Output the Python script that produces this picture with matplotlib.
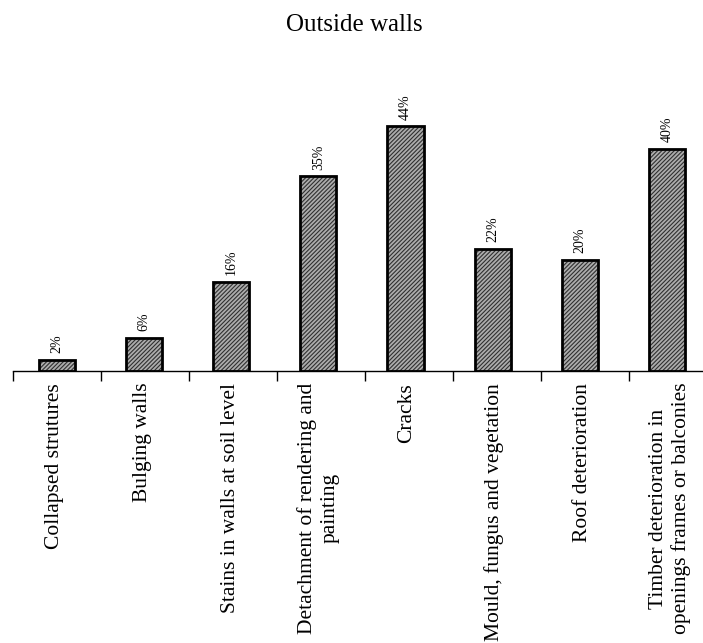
import numpy as np
import matplotlib
matplotlib.use('Agg')
import matplotlib.pyplot as plt

categories = ['Collapsed strutures', 'Bulging walls', 'Stains in walls at soil level',
              'Detachment of rendering and\npainting', 'Cracks',
              'Mould, fungus and vegetation', 'Roof deterioration',
              'Timber deterioration in\nopenings frames or balconies']
values = [2, 6, 16, 35, 44, 22, 20, 40]

plt.rcParams['font.family'] = ['Liberation Serif', 'DejaVu Serif']
plt.rcParams['hatch.linewidth'] = 0.8

fig = plt.figure(figsize=(7.03, 6.43), dpi=100)
# axis starts at the first boundary tick, runs off the right edge
ax = fig.add_axes([13/703, 272/643, 690/703, 278/643])

x = np.arange(len(values))
xb = x * 0.99  # bars drift slightly left of the category centres in the original
ax.bar(xb, values, width=0.41, color='#acacac', edgecolor='#303030',
       hatch='////////', linewidth=0)
ax.bar(xb, values, width=0.41, fill=False, edgecolor='black', linewidth=2)

for xi, v in zip(xb, values):
    ax.text(xi, v + 1.2, f'{v}%', rotation=90, ha='center', va='bottom', fontsize=10)

ax.set_xlim(-0.5, -0.5 + 690/88)
ax.set_ylim(0, 50)
ax.set_xticks(x - 0.03)
ax.set_xticklabels(categories, rotation=90, fontsize=15.5, multialignment='center',
                   linespacing=1.2)
ax.tick_params(axis='x', which='major', length=0, pad=8.5)
ax.set_xticks(np.arange(-0.5, len(values) - 0.5, 1), minor=True)
ax.tick_params(axis='x', which='minor', length=7, width=1, direction='out')
ax.set_yticks([])
for side in ['left', 'right', 'top']:
    ax.spines[side].set_visible(False)
ax.spines['bottom'].set_linewidth(1)

fig.text(354/703, 1 - 25/643, 'Outside walls', ha='center', va='center', fontsize=18)

fig.savefig('out.png', dpi=100)
